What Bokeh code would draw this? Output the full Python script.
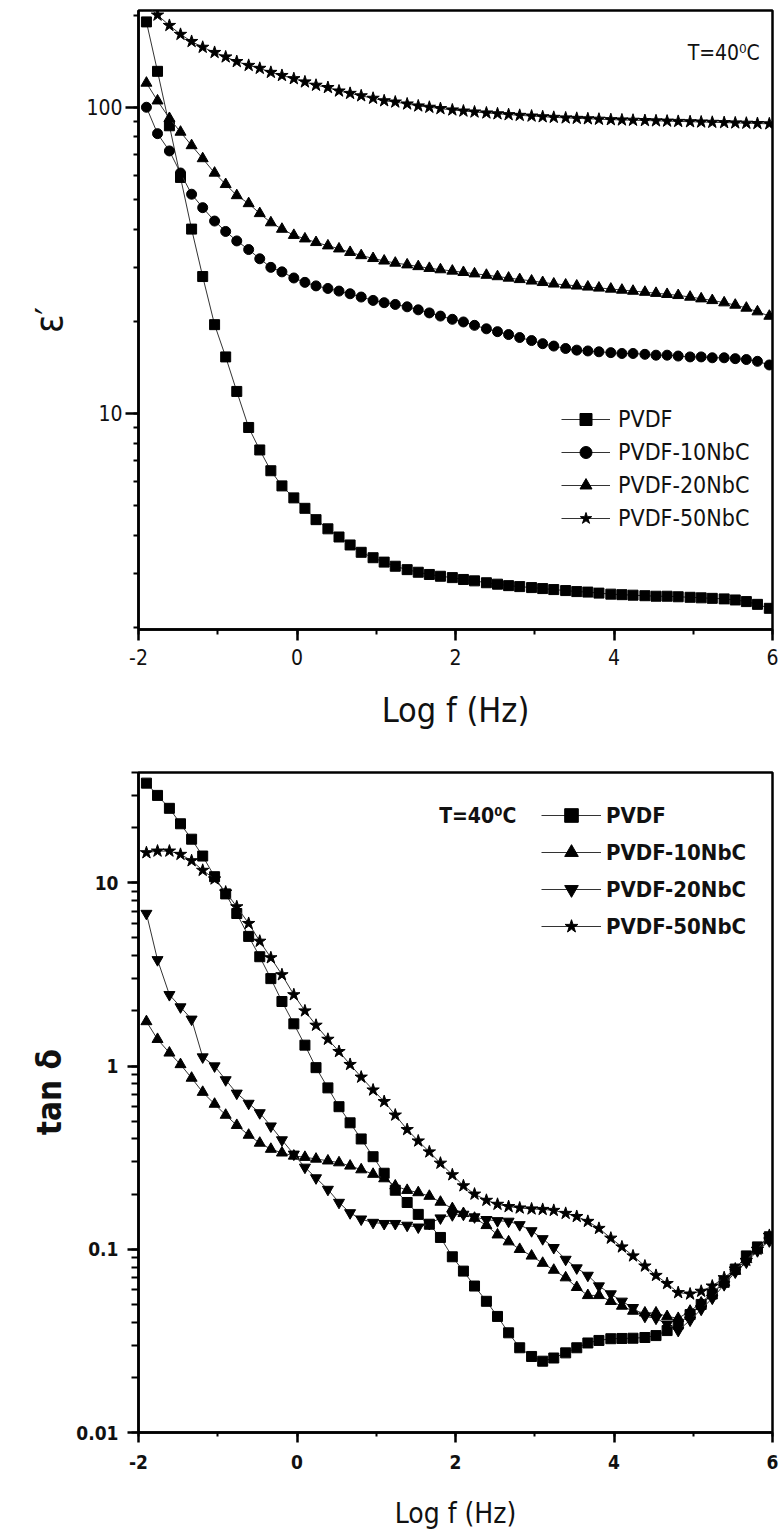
from bokeh.plotting import figure
from bokeh.layouts import column
from bokeh.models import (Range1d, SingleIntervalTicker, CustomJSTickFormatter,
                          Legend, LegendItem, Label)
from bokeh.embed import file_html
from bokeh.resources import INLINE

# ---------------- data ----------------
log_f = [-1.9, -1.76, -1.61, -1.47, -1.33, -1.19, -1.04, -0.9, -0.76, -0.61,
         -0.47, -0.33, -0.19, -0.04, 0.1, 0.24, 0.39, 0.53, 0.67, 0.81,
         0.96, 1.1, 1.24, 1.39, 1.53, 1.67, 1.81, 1.96, 2.1, 2.24,
         2.39, 2.53, 2.67, 2.81, 2.96, 3.1, 3.24, 3.39, 3.53, 3.67,
         3.81, 3.96, 4.1, 4.24, 4.39, 4.53, 4.67, 4.81, 4.96, 5.1,
         5.24, 5.39, 5.53, 5.67, 5.81, 5.96]

# (e) dielectric constant eps'
eps_pvdf = [190, 131, 87, 59, 40, 28, 19.5, 15.3, 11.8, 9.0,
            7.6, 6.5, 5.8, 5.3, 4.9, 4.5, 4.2, 3.95, 3.72, 3.52,
            3.38, 3.27, 3.17, 3.09, 3.03, 2.98, 2.94, 2.91, 2.87, 2.84,
            2.80, 2.77, 2.74, 2.72, 2.70, 2.68, 2.66, 2.64, 2.62, 2.61,
            2.59, 2.57, 2.56, 2.55, 2.54, 2.53, 2.53, 2.52, 2.51, 2.50,
            2.49, 2.48, 2.46, 2.43, 2.38, 2.31]
eps_10 = [100, 82, 72, 61, 52, 47, 42.5, 39.3, 36.6, 34.3,
          32, 30, 29, 27.7, 26.8, 26.1, 25.6, 25.1, 24.6, 24.0,
          23.4, 23.0, 22.7, 22.3, 21.8, 21.3, 20.8, 20.3, 19.9, 19.4,
          18.9, 18.5, 18.1, 17.7, 17.3, 16.9, 16.6, 16.3, 16.1, 16.0,
          15.9, 15.8, 15.7, 15.7, 15.6, 15.5, 15.5, 15.4, 15.3, 15.3,
          15.2, 15.2, 15.1, 15.0, 14.8, 14.4]
eps_20 = [120, 105, 92, 83, 75, 68, 61, 56, 51.5, 48.5,
          45, 42, 40, 38.2, 37.2, 36.2, 35.3, 34.5, 33.6, 32.8,
          32.1, 31.5, 31.0, 30.6, 30.2, 29.8, 29.5, 29.2, 28.9, 28.6,
          28.3, 28.0, 27.7, 27.4, 27.1, 26.8, 26.5, 26.3, 26.1, 25.9,
          25.7, 25.5, 25.3, 25.1, 24.9, 24.7, 24.5, 24.3, 24.0, 23.7,
          23.4, 23.0, 22.6, 22.1, 21.5, 20.8]
eps_50 = [215, 200, 185, 173, 164, 157, 151, 146, 141, 137,
          134, 130, 127, 124, 121, 118, 116, 113, 111, 109,
          107, 105, 104, 102.5, 101, 100, 99, 98, 97.2, 96.5,
          95.8, 95.2, 94.6, 94.1, 93.6, 93.1, 92.7, 92.3, 92.0, 91.7,
          91.4, 91.1, 90.9, 90.7, 90.5, 90.3, 90.1, 89.9, 89.7, 89.5,
          89.3, 89.1, 88.9, 88.7, 88.5, 88.3]

# (f) loss tangent tan delta
tan_pvdf = [35, 30, 25.5, 21, 17.3, 14, 10.8, 8.7, 6.8, 5.1,
            3.95, 3.0, 2.25, 1.7, 1.3, 0.98, 0.76, 0.6, 0.49, 0.4,
            0.32, 0.26, 0.21, 0.18, 0.155, 0.137, 0.116, 0.091, 0.076, 0.063,
            0.052, 0.043, 0.035, 0.029, 0.026, 0.0245, 0.0255, 0.0272, 0.029, 0.0308,
            0.0318, 0.0325, 0.0326, 0.0327, 0.033, 0.0338, 0.036, 0.039, 0.044, 0.05,
            0.057, 0.066, 0.078, 0.092, 0.103, 0.117]
tan_10 = [1.75, 1.4, 1.18, 1.02, 0.86, 0.72, 0.62, 0.54, 0.475, 0.42,
          0.38, 0.352, 0.336, 0.323, 0.318, 0.311, 0.304, 0.297, 0.285, 0.272,
          0.257, 0.243, 0.222, 0.21, 0.204, 0.195, 0.181, 0.167, 0.157, 0.148,
          0.135, 0.12, 0.11, 0.1, 0.092, 0.084, 0.077, 0.07, 0.062, 0.056,
          0.056, 0.052, 0.049, 0.046, 0.045, 0.045, 0.043, 0.042, 0.046, 0.051,
          0.058, 0.066, 0.076, 0.088, 0.099, 0.112]
tan_20 = [6.8, 3.8, 2.45, 2.1, 1.8, 1.12, 1.0, 0.84, 0.71, 0.625,
          0.555, 0.47, 0.395, 0.33, 0.28, 0.245, 0.212, 0.18, 0.158, 0.146,
          0.14, 0.138, 0.138, 0.135, 0.132, 0.138, 0.148, 0.154, 0.155, 0.15,
          0.145, 0.143, 0.142, 0.136, 0.126, 0.114, 0.102, 0.088, 0.079, 0.072,
          0.063, 0.057, 0.052, 0.048, 0.043, 0.042, 0.039, 0.036, 0.041, 0.047,
          0.054, 0.064, 0.075, 0.085, 0.098, 0.111]
tan_50 = [14.6, 14.9, 14.9, 14.3, 13.2, 11.7, 10.5, 8.9, 7.4, 6.0,
          4.8, 3.9, 3.15, 2.45, 2.0, 1.67, 1.4, 1.2, 1.02, 0.87,
          0.74, 0.64, 0.54, 0.45, 0.39, 0.34, 0.295, 0.255, 0.222, 0.2,
          0.185, 0.176, 0.171, 0.168, 0.166, 0.165, 0.163, 0.157, 0.151, 0.142,
          0.13, 0.115, 0.103, 0.092, 0.081, 0.072, 0.065, 0.058, 0.057, 0.059,
          0.063, 0.07, 0.078, 0.087, 0.1, 0.119]

labels_e = ["PVDF", "PVDF-10NbC", "PVDF-20NbC", "PVDF-50NbC"]
labels_f = ["PVDF", "PVDF-10NbC", "PVDF-20NbC", "PVDF-50NbC"]
temp_text = "T=40\u2070C"

# ---------------- style ----------------
NARROW = "'Liberation Sans Narrow', 'Arial Narrow', 'DejaVu Sans Condensed', sans-serif"
SERIF = "'Liberation Serif', 'DejaVu Serif', serif"
FMT = CustomJSTickFormatter(code="return Number(tick.toPrecision(6)).toString();")


def style_axes(p, bold, tick_size, ymaj, ymin, xmaj, xmin, ystand, xstand):
    p.grid.visible = False
    p.outline_line_color = "black"
    p.outline_line_width = 2.5
    p.background_fill_color = "white"
    p.border_fill_color = "white"
    p.xaxis.ticker = SingleIntervalTicker(interval=2, num_minor_ticks=2)
    for ax in (p.xaxis[0], p.yaxis[0]):
        ax.formatter = FMT
        ax.axis_line_width = 2.5
        ax.axis_line_color = "black"
        ax.major_tick_line_width = 2.5
        ax.minor_tick_line_width = 2
        ax.major_tick_in = 0
        ax.minor_tick_in = 0
        ax.major_label_text_font = NARROW
        ax.major_label_text_font_size = tick_size
        ax.major_label_text_font_style = "bold" if bold else "normal"
        ax.major_label_text_color = "#111111"
        ax.axis_label_text_color = "#111111"
        ax.axis_label_text_font = NARROW
    p.yaxis.major_tick_out = ymaj
    p.yaxis.minor_tick_out = ymin
    p.xaxis.major_tick_out = xmaj
    p.xaxis.minor_tick_out = xmin
    p.yaxis.major_label_standoff = ystand
    p.xaxis.major_label_standoff = xstand


def add_series(p, x, ys, markers, sizes):
    rends = []
    for y, m, s in zip(ys, markers, sizes):
        ln = p.line(x, y, line_color="#333333", line_width=1)
        sc = p.scatter(x, y, marker=m, size=s, fill_color="black", line_color="black")
        rends.append([ln, sc])
    return rends


# ---------------- panel (e) ----------------
p1 = figure(width=783, height=745, x_range=Range1d(-2, 6), y_range=Range1d(1.97, 207),
            y_axis_type="log", output_backend="svg", toolbar_location=None,
            min_border_left=131, min_border_right=11, min_border_top=10, min_border_bottom=116)
style_axes(p1, False, "21px", 13, 5, 11, 5, 3, 8)
p1.xaxis.axis_label = "Log f (Hz)"
p1.xaxis.axis_label_text_font_size = "34px"
p1.xaxis.axis_label_text_font_style = "normal"
p1.xaxis.axis_label_standoff = 22
p1.yaxis.axis_label = "\u03b5\u2032"
p1.yaxis.axis_label_text_font_size = "38px"
p1.yaxis.axis_label_text_font_style = "normal"
p1.yaxis.axis_label_standoff = 12

r1 = add_series(p1, log_f, [eps_pvdf, eps_10, eps_20, eps_50],
                ["square", "circle", "triangle", "star"], [10, 10, 11, 13])
leg1 = Legend(items=[LegendItem(label=l, renderers=r) for l, r in zip(labels_e, r1)],
              location=(423, 96), orientation="vertical")
leg1.glyph_width = 49
leg1.glyph_height = 30
leg1.label_height = 30
leg1.spacing = 3
leg1.label_standoff = 8
leg1.padding = 0
leg1.margin = 0
leg1.border_line_color = None
leg1.background_fill_alpha = 0
leg1.label_text_font = NARROW
leg1.label_text_font_size = "23px"
leg1.label_text_color = "#111111"
p1.add_layout(leg1)

p1.add_layout(Label(x=5.84, y=150, text=temp_text, text_align="right", text_baseline="middle",
                    text_font=NARROW, text_font_size="21px", text_color="#111111"))
p1.add_layout(Label(x=-3.48, y=189, text="(e)", text_align="left", text_baseline="middle",
                    text_font=SERIF, text_font_size="27px", text_color="black"))

# ---------------- panel (f) ----------------
p2 = figure(width=783, height=795, x_range=Range1d(-2, 6), y_range=Range1d(0.01, 40),
            y_axis_type="log", output_backend="svg", toolbar_location=None,
            min_border_left=138, min_border_right=9, min_border_top=27, min_border_bottom=108)
style_axes(p2, True, "19px", 11, 7, 10, 4, 9, 12)
p2.xaxis.axis_label = "Log f (Hz)"
p2.xaxis.axis_label_text_font_size = "28px"
p2.xaxis.axis_label_text_font_style = "normal"
p2.xaxis.axis_label_standoff = 25
p2.yaxis.axis_label = "\u00a0\u00a0tan \u03b4"
p2.yaxis.axis_label_text_font_size = "33px"
p2.yaxis.axis_label_text_font_style = "bold"
p2.yaxis.axis_label_standoff = 4

r2 = add_series(p2, log_f, [tan_pvdf, tan_10, tan_20, tan_50],
                ["square", "triangle", "inverted_triangle", "star"], [10, 11, 11, 13])
leg2 = Legend(items=[LegendItem(label=l, renderers=r) for l, r in zip(labels_f, r2)],
              location=(403, 489), orientation="vertical")
leg2.glyph_width = 60
leg2.glyph_height = 34
leg2.label_height = 34
leg2.spacing = 3
leg2.label_standoff = 5
leg2.padding = 0
leg2.margin = 0
leg2.border_line_color = None
leg2.background_fill_alpha = 0
leg2.label_text_font = NARROW
leg2.label_text_font_size = "22px"
leg2.label_text_font_style = "bold"
leg2.label_text_color = "#111111"
p2.add_layout(leg2)

p2.add_layout(Label(x=2.767, y=23.1, text=temp_text, text_align="right", text_baseline="middle",
                    text_font=NARROW, text_font_size="21px", text_font_style="bold",
                    text_color="#111111"))
p2.add_layout(Label(x=-3.46, y=26.5, text="(f)", text_align="left", text_baseline="middle",
                    text_font=SERIF, text_font_size="27px", text_color="black"))

layout = column(p1, p2, spacing=0)
open("out.html", "w").write(file_html(layout, INLINE))
